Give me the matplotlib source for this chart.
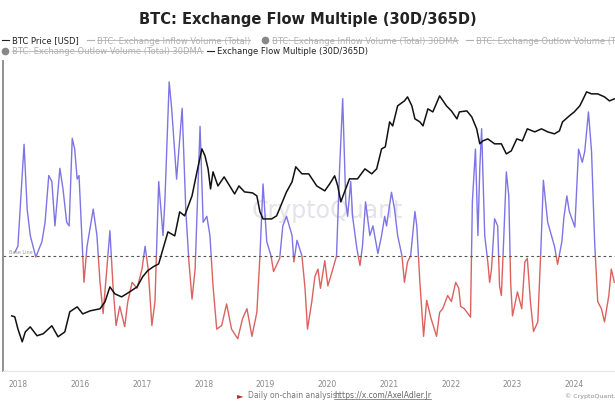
import matplotlib
matplotlib.use('Agg')
import matplotlib.pyplot as plt
from matplotlib.patches import Rectangle
from matplotlib.lines import Line2D

# Exchange Flow Multiple (30D/365D) (decimal year, value)
flow_years = [2014.94, 2014.99, 2015.09, 2015.14, 2015.19, 2015.28, 2015.38, 2015.43, 2015.49, 2015.54,
              2015.59, 2015.67, 2015.72, 2015.78, 2015.82, 2015.87, 2015.91, 2015.95, 2015.98, 2016.03,
              2016.06, 2016.11, 2016.21, 2016.27, 2016.32, 2016.37, 2016.43, 2016.48, 2016.53, 2016.58,
              2016.64, 2016.72, 2016.77, 2016.84, 2016.92, 2017.00, 2017.05, 2017.10, 2017.16, 2017.21,
              2017.27, 2017.34, 2017.37, 2017.44, 2017.48, 2017.56, 2017.65, 2017.71, 2017.76, 2017.81,
              2017.86, 2017.94, 2017.99, 2018.05, 2018.10, 2018.15, 2018.21, 2018.29, 2018.37, 2018.45,
              2018.55, 2018.63, 2018.70, 2018.78, 2018.86, 2018.91, 2018.96, 2019.02, 2019.09, 2019.13,
              2019.23, 2019.28, 2019.34, 2019.43, 2019.46, 2019.51, 2019.59, 2019.64, 2019.68, 2019.75,
              2019.80, 2019.85, 2019.89, 2019.96, 2020.01, 2020.09, 2020.15, 2020.20, 2020.25, 2020.30,
              2020.33, 2020.38, 2020.41, 2020.48, 2020.53, 2020.57, 2020.62, 2020.69, 2020.74, 2020.82,
              2020.88, 2020.93, 2020.96, 2021.04, 2021.09, 2021.14, 2021.21, 2021.25, 2021.30, 2021.35,
              2021.42, 2021.45, 2021.50, 2021.56, 2021.61, 2021.68, 2021.77, 2021.82, 2021.87, 2021.95,
              2022.01, 2022.08, 2022.13, 2022.16, 2022.22, 2022.32, 2022.35, 2022.40, 2022.44, 2022.47,
              2022.50, 2022.55, 2022.60, 2022.63, 2022.66, 2022.71, 2022.76, 2022.79, 2022.82, 2022.86,
              2022.90, 2022.94, 2022.97, 2023.00, 2023.08, 2023.15, 2023.20, 2023.24, 2023.29, 2023.34,
              2023.41, 2023.46, 2023.50, 2023.57, 2023.63, 2023.68, 2023.73, 2023.80, 2023.83, 2023.88,
              2023.92, 2024.01, 2024.07, 2024.13, 2024.17, 2024.23, 2024.28, 2024.33, 2024.38, 2024.44,
              2024.49, 2024.56, 2024.60, 2024.65]
flow_multiple = [1.03, 1.08, 1.93, 1.39, 1.17, 0.99, 1.12, 1.28, 1.67, 1.62,
                 1.25, 1.73, 1.56, 1.28, 1.25, 1.98, 1.89, 1.64, 1.67, 1.12,
                 0.78, 1.08, 1.39, 1.17, 0.78, 0.52, 0.89, 1.21, 0.75, 0.42,
                 0.58, 0.41, 0.62, 0.78, 0.73, 0.89, 1.08, 0.89, 0.42, 0.62,
                 1.62, 1.17, 1.45, 2.45, 2.23, 1.64, 2.23, 1.37, 0.95, 0.64,
                 0.89, 2.08, 1.28, 1.33, 1.17, 0.75, 0.39, 0.42, 0.60, 0.39,
                 0.31, 0.48, 0.56, 0.33, 0.53, 1.00, 1.60, 1.12, 1.00, 0.87,
                 0.98, 1.25, 1.33, 1.17, 0.95, 1.13, 1.00, 0.73, 0.39, 0.62,
                 0.83, 0.89, 0.73, 0.96, 0.75, 0.89, 1.00, 1.73, 2.31, 1.45,
                 1.33, 1.62, 1.33, 1.06, 0.92, 1.08, 1.45, 1.17, 1.25, 1.02,
                 1.17, 1.33, 1.25, 1.53, 1.39, 1.17, 1.00, 0.78, 0.95, 1.00,
                 1.37, 1.25, 0.78, 0.33, 0.63, 0.48, 0.33, 0.53, 0.56, 0.67,
                 0.62, 0.78, 0.73, 0.58, 0.56, 0.49, 1.45, 1.89, 1.17, 1.73,
                 2.06, 1.17, 0.95, 0.78, 0.89, 1.31, 1.25, 0.75, 0.67, 1.17,
                 1.70, 1.50, 0.78, 0.50, 0.70, 0.56, 0.95, 0.98, 0.62, 0.37,
                 0.45, 1.06, 1.63, 1.28, 1.17, 1.08, 0.93, 1.12, 1.31, 1.50,
                 1.37, 1.24, 1.89, 1.78, 1.87, 2.20, 1.87, 1.12, 0.62, 0.56,
                 0.45, 0.67, 0.89, 0.78]

# BTC price [USD]
price_years = [2014.89, 2014.94, 2014.99, 2015.06, 2015.11, 2015.19, 2015.30, 2015.40, 2015.54, 2015.64,
               2015.75, 2015.83, 2015.95, 2016.04, 2016.16, 2016.32, 2016.40, 2016.48, 2016.56, 2016.67,
               2016.80, 2016.92, 2017.01, 2017.09, 2017.18, 2017.27, 2017.34, 2017.42, 2017.53, 2017.61,
               2017.69, 2017.81, 2017.89, 2017.97, 2018.02, 2018.07, 2018.11, 2018.15, 2018.23, 2018.33,
               2018.42, 2018.50, 2018.57, 2018.66, 2018.79, 2018.86, 2018.91, 2018.96, 2019.10, 2019.18,
               2019.26, 2019.34, 2019.43, 2019.49, 2019.59, 2019.70, 2019.83, 2019.96, 2020.04, 2020.12,
               2020.17, 2020.22, 2020.28, 2020.36, 2020.49, 2020.61, 2020.72, 2020.80, 2020.88, 2020.94,
               2021.01, 2021.06, 2021.14, 2021.25, 2021.30, 2021.37, 2021.42, 2021.50, 2021.55, 2021.63,
               2021.71, 2021.82, 2021.93, 2022.01, 2022.10, 2022.14, 2022.26, 2022.34, 2022.42, 2022.47,
               2022.52, 2022.60, 2022.71, 2022.82, 2022.90, 2022.98, 2023.07, 2023.16, 2023.24, 2023.36,
               2023.47, 2023.57, 2023.68, 2023.76, 2023.81, 2023.92, 2024.00, 2024.09, 2024.13, 2024.20,
               2024.28, 2024.38, 2024.49, 2024.57, 2024.65]
btc_price = [332, 324, 242, 177, 225, 254, 205, 215, 261, 200,
             225, 366, 413, 348, 375, 394, 466, 670, 566, 526,
             594, 670, 855, 989, 1089, 1170, 1683, 2541, 2307, 4127,
             3750, 6085, 10890, 19010, 16040, 11700, 7210, 10890, 7740, 9640,
             7740, 6380, 7740, 6700, 6540, 6085, 4127, 3480, 3480, 3750,
             5010, 6700, 8550, 12300, 10380, 10380, 7740, 6870, 8150, 9890,
             7740, 5260, 6700, 9190, 9190, 11700, 10380, 11700, 19010, 19950,
             36560, 33190, 53950, 60830, 67000, 53950, 39360, 36560, 33190, 50120,
             46560, 68710, 53950, 47750, 39360, 46560, 47750, 41300, 30900, 21480,
             23070, 24210, 21480, 21480, 16830, 18110, 24210, 23070, 30900, 28710,
             30900, 28710, 27350, 29400, 36560, 42270, 46560, 53950, 60830, 75690,
             72110, 72110, 67000, 60830, 63830]

tick_years = [2015, 2016, 2017, 2018, 2019, 2020, 2021, 2022, 2023, 2024]
tick_labels = ['2018', '2016', '2017', '2018', '2019', '2020', '2021', '2022', '2023', '2024']

blue = '#7d74e6'
red = '#dc625f'

fig = plt.figure(figsize=(6.15, 4.1), dpi=100)
ax = fig.add_axes([0.005, 0.093, 0.995, 0.756])
ax.set_xlim(2014.75, 2024.66)
ax.set_ylim(0.042, 2.625)

# flow multiple, blue above the base line and red below it
above = ax.plot(flow_years, flow_multiple, color=blue, lw=1.0)[0]
below = ax.plot(flow_years, flow_multiple, color=red, lw=1.0)[0]
clip_up = Rectangle((2014, 1.0), 12, 5, transform=ax.transData)
clip_dn = Rectangle((2014, -5), 12, 6, transform=ax.transData)
above.set_clip_path(clip_up)
below.set_clip_path(clip_dn)
ax.axhline(1.0, color='#555555', lw=0.8, ls=(0, (2.5, 2.5)))
ax.text(2014.85, 1.015, 'Base Line', fontsize=3.5, color='#999999', va='bottom')

ax.set_xticks(tick_years)
ax.set_xticklabels(tick_labels, fontsize=5.5, color='#888888')
ax.tick_params(axis='x', length=0, pad=6)
ax.set_yticks([])
for s in ['top', 'right']:
    ax.spines[s].set_visible(False)
ax.spines['left'].set_color('#888888')
ax.spines['left'].set_linewidth(1.3)
ax.spines['bottom'].set_color('#e6e6e6')
ax.spines['bottom'].set_linewidth(0.8)

ax.text(0.53, 0.52, 'CryptoQuant', transform=ax.transAxes, fontsize=17,
        color='#e3e3ea', ha='center', va='center', zorder=0)

# BTC price on a log axis
ax2 = ax.twinx()
ax2.set_yscale('log')
ax2.set_ylim(87.5, 160300)
ax2.plot(price_years, btc_price, color='#111111', lw=1.1)
ax2.set_yticks([])
ax2.minorticks_off()
ax2.set_yticklabels([])
for s in ax2.spines.values():
    s.set_visible(False)

fig.text(0.5, 0.952, 'BTC: Exchange Flow Multiple (30D/365D)', ha='center', va='center',
         fontsize=10.5, fontweight='bold', color='#222222')

# legend, drawn by hand
W, H = 615.0, 410.0
legend_items = [
    (2, 41, 'line', 'BTC Price [USD]', False),
    (87, 41, 'line', 'BTC: Exchange Inflow Volume (Total)', True),
    (262, 41, 'dot', 'BTC: Exchange Inflow Volume (Total) 30DMA', True),
    (466, 41, 'line', 'BTC: Exchange Outlow Volume (Total)', True),
    (2, 52, 'dot', 'BTC: Exchange Outlow Volume (Total) 30DMA', True),
    (207, 52, 'line', 'Exchange Flow Multiple (30D/365D)', False),
]
texts = []
for lx, ly, kind, label, hidden in legend_items:
    col = '#b0b0b0' if hidden else '#222222'
    fy = 1 - ly / H
    if kind == 'line':
        fig.add_artist(Line2D([lx / W, (lx + 7) / W], [fy, fy], color=col, lw=0.8))
    else:
        fig.add_artist(Line2D([(lx + 3) / W], [fy], marker='o', ms=4.5, color='#888888'))
    t = fig.text((lx + 10) / W, fy, label, fontsize=6, color=col, va='center')
    texts.append((t, hidden))

# footer
fig.text(237 / W, 1 - 396 / H, '\u25ba', fontsize=6, color='#c0282d', va='center')
fig.text(248 / W, 1 - 396 / H, 'Daily on-chain analysis: ', fontsize=5.5, color='#777777', va='center')
link = fig.text(334 / W, 1 - 396 / H, 'https://x.com/AxelAdler.Jr', fontsize=5.5, color='#666666', va='center')
fig.text(565 / W, 1 - 396 / H, '\u00a9 CryptoQuant. All', fontsize=4.5, color='#888888', va='center')

fig.canvas.draw()
r = fig.canvas.get_renderer()
inv = fig.transFigure.inverted()
for t, hidden in texts:
    if hidden:
        bb = t.get_window_extent(r).transformed(inv)
        ym = (bb.y0 + bb.y1) / 2
        fig.add_artist(Line2D([bb.x0, bb.x1], [ym, ym], color='#b0b0b0', lw=0.6))
bb = link.get_window_extent(r).transformed(inv)
fig.add_artist(Line2D([bb.x0, bb.x1], [bb.y0 + 0.002, bb.y0 + 0.002], color='#666666', lw=0.5))

fig.savefig('out.png', dpi=100)
